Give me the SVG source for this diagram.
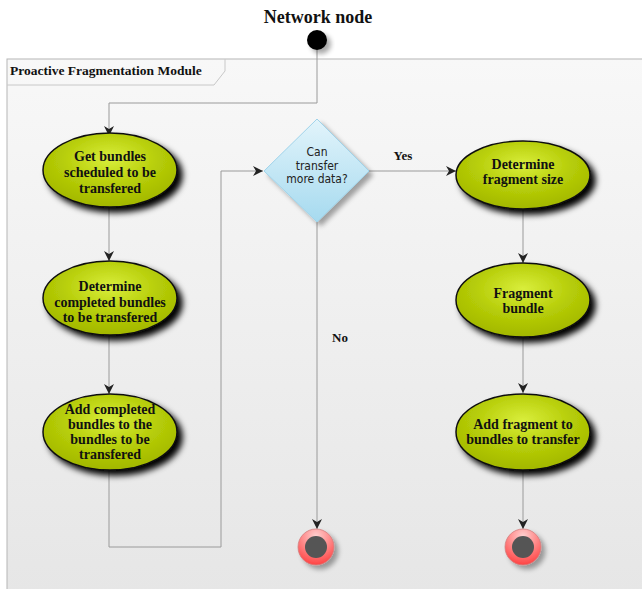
<svg xmlns="http://www.w3.org/2000/svg" width="642" height="589" viewBox="0 0 642 589">
<style>
.t{font-family:"Liberation Serif",serif;font-weight:bold;fill:#111;text-anchor:middle}
.n{font-size:14px}
.d{font-family:"DejaVu Sans Condensed","DejaVu Sans",sans-serif;font-size:12px;fill:#222;text-anchor:middle}
.act{fill:url(#gAct);stroke:#111;stroke-width:1.5;filter:url(#shAct)}
.ln{fill:none;stroke:#9a9a9a;stroke-width:1}
</style>
<defs>
<linearGradient id="gBg" x1="0" y1="0" x2="0" y2="1">
<stop offset="0" stop-color="#f8f8f8"/><stop offset="1" stop-color="#e6e6e6"/>
</linearGradient>
<radialGradient id="gAct" cx="0.5" cy="0.35" r="0.65">
<stop offset="0" stop-color="#d9ee3c"/><stop offset="0.55" stop-color="#b6cd08"/><stop offset="1" stop-color="#a2b700"/>
</radialGradient>
<linearGradient id="gDia" x1="0" y1="0" x2="0" y2="1">
<stop offset="0" stop-color="#e2f4fb"/><stop offset="1" stop-color="#a6daef"/>
</linearGradient>
<radialGradient id="gEnd" cx="0.5" cy="0.2" r="0.85">
<stop offset="0" stop-color="#ffd0d0"/><stop offset="1" stop-color="#ff3a3a"/>
</radialGradient>
<filter id="shAct" x="-20%" y="-20%" width="150%" height="160%">
<feGaussianBlur in="SourceAlpha" stdDeviation="3"/>
<feOffset dx="5" dy="5" result="b"/>
<feMerge><feMergeNode in="b"/><feMergeNode in="SourceGraphic"/></feMerge>
</filter>
<filter id="shSoft" x="-30%" y="-30%" width="170%" height="170%">
<feGaussianBlur in="SourceAlpha" stdDeviation="2.5"/>
<feOffset dx="4" dy="4"/>
<feComponentTransfer><feFuncA type="linear" slope="0.35"/></feComponentTransfer>
<feMerge><feMergeNode/><feMergeNode in="SourceGraphic"/></feMerge>
</filter>
<marker id="arr" viewBox="0 0 10 10" refX="10" refY="5" markerWidth="10" markerHeight="10" markerUnits="userSpaceOnUse" orient="auto">
<path d="M0,0 L10,5 L0,10 L3,5 Z" fill="#222"/>
</marker>
</defs>
<rect width="642" height="589" fill="#fff"/>
<g id="frame">
<rect x="7" y="59" width="640" height="535" fill="url(#gBg)" stroke="#b5b5b5"/>
<path d="M7,85 L214,85 L225,71 L225,59" fill="none" stroke="#c8c8c8"/>
<text class="t" x="10" y="75" style="font-size:13.5px;text-anchor:start">Proactive Fragmentation Module</text>
</g>
<g id="title"><text class="t" x="318" y="23" style="font-size:18px">Network node</text></g>
<g id="connectors">
<path class="ln" d="M317,50 V103 H109 V136" marker-end="url(#arr)"/>
<path class="ln" d="M109,207 V261" marker-end="url(#arr)"/>
<path class="ln" d="M109,336 V394" marker-end="url(#arr)"/>
<path class="ln" d="M109,470 V547 H221 V171 H263" marker-end="url(#arr)"/>
<path class="ln" d="M369,171 H456" marker-end="url(#arr)"/>
<path class="ln" d="M317,222 V529" marker-end="url(#arr)"/>
<path class="ln" d="M523,208 V263" marker-end="url(#arr)"/>
<path class="ln" d="M523,337 V393" marker-end="url(#arr)"/>
<path class="ln" d="M523,470 V529" marker-end="url(#arr)"/>
<text class="t" x="403" y="160" style="font-size:13px">Yes</text>
<text class="t" x="340" y="342" style="font-size:13px">No</text>
</g>
<g id="start"><circle cx="317" cy="40" r="10" fill="#000" filter="url(#shSoft)"/></g>
<g id="a1"><ellipse class="act" cx="110" cy="170" rx="67" ry="37"/>
<text class="t n" x="110" y="161">Get bundles</text><text class="t n" x="110" y="177">scheduled to be</text><text class="t n" x="110" y="193">transfered</text></g>
<g id="a2"><ellipse class="act" cx="110" cy="298" rx="67" ry="37"/>
<text class="t n" x="110" y="291">Determine</text><text class="t n" x="110" y="307">completed bundles</text><text class="t n" x="110" y="322">to be transfered</text></g>
<g id="a3"><ellipse class="act" cx="110" cy="432" rx="67" ry="38"/>
<text class="t n" x="110" y="414">Add completed</text><text class="t n" x="110" y="429">bundles to the</text><text class="t n" x="110" y="444">bundles to be</text><text class="t n" x="110" y="459">transfered</text></g>
<g id="decision"><path d="M317,119 L369,171 L317,222 L264,171 Z" fill="url(#gDia)" stroke="#9fd3ea" filter="url(#shSoft)"/>
<text class="d" x="317" y="156">Can</text><text class="d" x="317" y="169.5">transfer</text><text class="d" x="317" y="183">more data?</text></g>
<g id="a4"><ellipse class="act" cx="523" cy="175" rx="67" ry="34"/>
<text class="t n" x="523" y="169">Determine</text><text class="t n" x="523" y="184">fragment size</text></g>
<g id="a5"><ellipse class="act" cx="523" cy="300" rx="67" ry="37"/>
<text class="t n" x="523" y="298">Fragment</text><text class="t n" x="523" y="313">bundle</text></g>
<g id="a6"><ellipse class="act" cx="523" cy="432" rx="67" ry="38"/>
<text class="t n" x="523" y="429">Add fragment to</text><text class="t n" x="523" y="444">bundles to transfer</text></g>
<g id="end1"><circle cx="316" cy="547" r="18" fill="url(#gEnd)" stroke="#d08080" stroke-width="0.8" filter="url(#shSoft)"/><circle cx="316" cy="547" r="11" fill="#555"/></g>
<g id="end2"><circle cx="523" cy="547" r="18" fill="url(#gEnd)" stroke="#d08080" stroke-width="0.8" filter="url(#shSoft)"/><circle cx="523" cy="547" r="11" fill="#555"/></g>
</svg>
